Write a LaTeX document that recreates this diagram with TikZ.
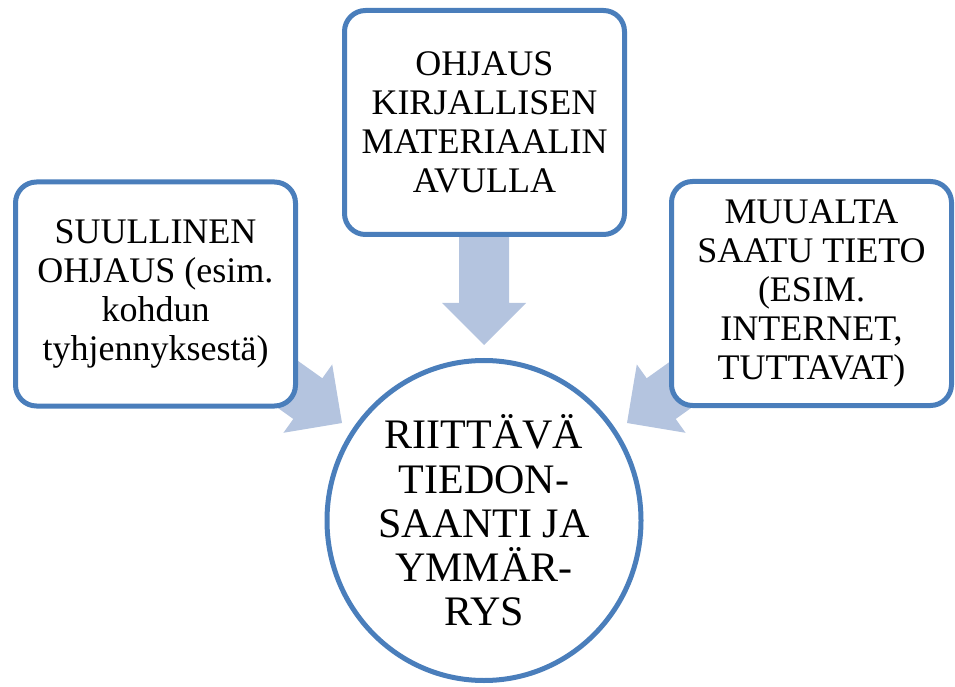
\documentclass[tikz,border=0pt]{standalone}
\usepackage{fontspec}
\setmainfont{Liberation Serif}
\usetikzlibrary{shapes.geometric}
\definecolor{edgeblue}{HTML}{4A7EBB}
\definecolor{arrowblue}{HTML}{B4C4DF}
\tikzset{
  infobox/.style={draw=edgeblue, line width=5pt, fill=white, rounded corners=21pt,
    minimum width=280pt, minimum height=224pt, inner sep=0pt, align=center,
    font=\fontsize{36}{39}\selectfont},
  goal/.style={ellipse, draw=edgeblue, line width=5pt, fill=white,
    minimum width=314pt, minimum height=320pt, inner sep=0pt, align=center,
    font=\fontsize{42}{44.3}\selectfont},
  blockarrow/.style={fill=arrowblue}
}
% block arrow pointing along +x with its tip at the origin
\newcommand{\blkarrow}[1]{%
  \fill[blockarrow] (0,0) -- (-42,42) -- (-42,25) -- (-#1,25) -- (-#1,-25)
    -- (-42,-25) -- (-42,-42) -- cycle;}
\begin{document}
\begin{tikzpicture}[x=1pt,y=1pt]
\useasboundingbox (0,0) rectangle (955,686);

% arrow tips at the rim of the central circle
\coordinate (tipL) at (342,263);
\coordinate (tipT) at (484,341);
\coordinate (tipR) at (627,263);

\begin{scope}[shift={(tipL)}, rotate=-35.5]\blkarrow{200}\end{scope}
\begin{scope}[shift={(tipT)}, rotate=-90]\blkarrow{145}\end{scope}
\begin{scope}[shift={(tipR)}, rotate=-144.5]\blkarrow{200}\end{scope}

\node[infobox] (oral) at (155.5,392) {SUULLINEN\\OHJAUS (esim.\\kohdun\\tyhjennyksestä)};
\node[infobox] (written) at (484.5,563.5) {OHJAUS\\KIRJALLISEN\\MATERIAALIN\\AVULLA};
\node[infobox] (other) at (811.5,392.5) {MUUALTA\\SAATU TIETO\\(ESIM.\\INTERNET,\\TUTTAVAT)};

\node[goal] (result) at (484,165.5) {RIITTÄVÄ\\TIEDON-\\SAANTI JA\\YMMÄR-\\RYS};
\end{tikzpicture}
\end{document}
